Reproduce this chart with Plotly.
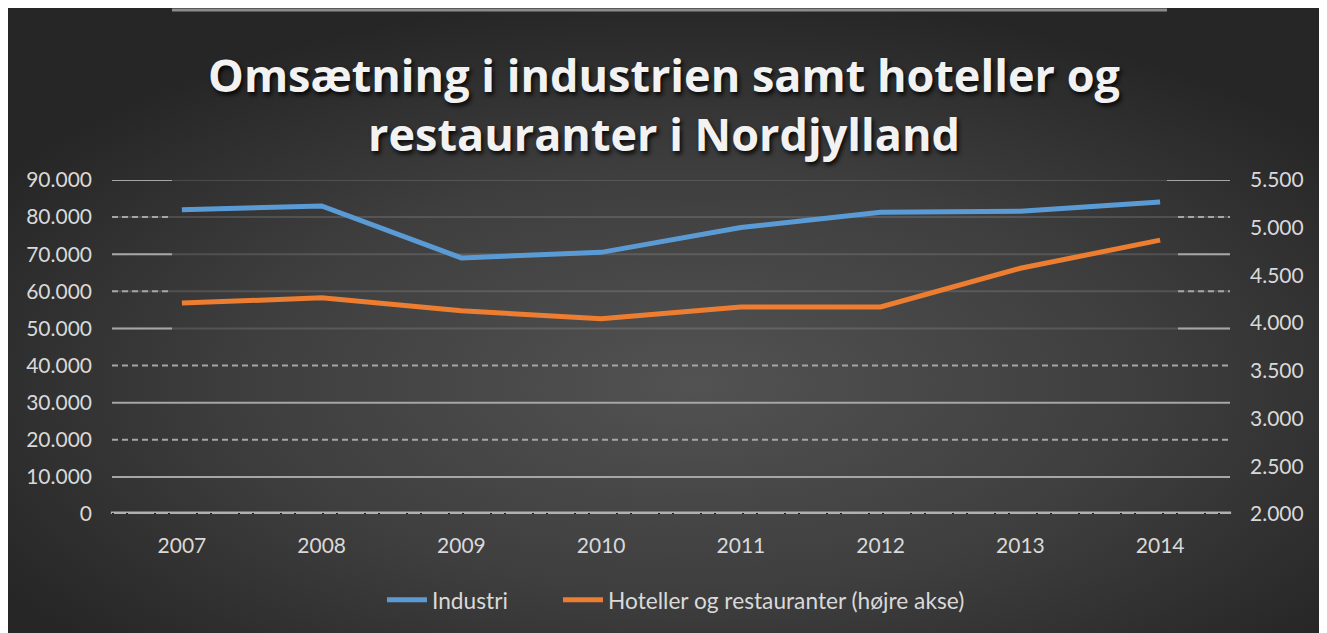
import base64
import plotly.graph_objects as go

# ---- data ----
years = ["2007", "2008", "2009", "2010", "2011", "2012", "2013", "2014"]
industri = [82000, 83000, 69000, 70500, 77200, 81300, 81600, 84100]
hoteller = [4210, 4265, 4130, 4045, 4170, 4170, 4575, 4870]

left_ticks = [0, 10000, 20000, 30000, 40000, 50000, 60000, 70000, 80000, 90000]
right_ticks = [2000, 2500, 3000, 3500, 4000, 4500, 5000, 5500]

title_text = "Omsætning i industrien samt hoteller og<br>restauranter i Nordjylland"
name_ind = "Industri"
name_hot = "Hoteller og restauranter (højre akse)"

# figure is placed at (8, 8) in the page by the default body margin
W, H = 1319, 625
ML, MR, MT, MB = 104, 97, 172, 119
PW, PH = W - ML - MR, H - MT - MB


def px_x(x):
    return (x - ML) / PW


def px_y(y):
    return (H - MB - y) / PH


# radial gradient background
svg = (
    "<svg xmlns='http://www.w3.org/2000/svg' width='1319' height='625' viewBox='0 0 1319 625' preserveAspectRatio='none'>"
    "<defs><radialGradient id='g' cx='0.52' cy='0.6' r='0.62'>"
    "<stop offset='0' stop-color='#525252'/><stop offset='0.55' stop-color='#3e3e3e'/>"
    "<stop offset='1' stop-color='#262626'/></radialGradient></defs>"
    "<rect width='1319' height='625' fill='url(#g)'/></svg>"
)
bg_src = "data:image/svg+xml;base64," + base64.b64encode(svg.encode()).decode()

fig = go.Figure()
fig.add_trace(go.Scatter(x=years, y=industri, name=name_ind, mode="lines",
                         line=dict(color="#5b9bd5", width=5), yaxis="y", legend="legend"))
fig.add_trace(go.Scatter(x=years, y=hoteller, name=name_hot, mode="lines",
                         line=dict(color="#ed7d31", width=5), yaxis="y2", legend="legend2"))

shapes = []
bright = "#a6a6a6"
for v in left_ticks[1:]:
    dash = "solid" if (v // 10000) % 2 == 1 else "6px,4px"
    if v <= 40000:
        shapes.append(dict(type="line", xref="paper", yref="y", x0=0, x1=1, y0=v, y1=v,
                           line=dict(color=bright, width=2, dash=dash), layer="below"))
    else:
        shapes.append(dict(type="line", xref="paper", yref="y", x0=0, x1=1, y0=v, y1=v,
                           line=dict(color="rgba(255,255,255,0.13)", width=2), layer="below"))
        x1l = px_x(164)
        x0r = px_x(1159 if v == 90000 else 1170)
        shapes.append(dict(type="line", xref="paper", yref="y", x0=0, x1=x1l, y0=v, y1=v,
                           line=dict(color=bright, width=2, dash=dash), layer="below"))
        shapes.append(dict(type="line", xref="paper", yref="y", x0=x0r, x1=1, y0=v, y1=v,
                           line=dict(color=bright, width=2, dash=dash), layer="below"))
# zero line
shapes.append(dict(type="line", xref="paper", yref="y", x0=-0.001, x1=1.001, y0=0, y1=0,
                   line=dict(color="#b0b0b0", width=5), layer="below"))
shapes.append(dict(type="line", xref="paper", yref="y", x0=0, x1=1, y0=0, y1=0,
                   line=dict(color="#1a1a1a", width=2, dash="2px,12px,2px,26px"), layer="below"))
# top grey strip line
shapes.append(dict(type="line", xref="paper", yref="paper", x0=px_x(164), x1=px_x(1159),
                   y0=px_y(2), y1=px_y(2), line=dict(color="#8c8c8c", width=3)))

tickfont = dict(family="Lato", size=21, color="#d9d9d9")
legfont = dict(family="Lato", size=22.7, color="#d9d9d9")

fig.update_layout(
    width=W, height=H,
    margin=dict(l=ML, r=MR, t=MT, b=MB),
    paper_bgcolor="#2a2a2a",
    plot_bgcolor="rgba(0,0,0,0)",
    separators=",.",
    images=[dict(source=bg_src, xref="paper", yref="paper", x=px_x(0), y=px_y(0),
                 sizex=W / PW, sizey=H / PH, xanchor="left", yanchor="top",
                 sizing="stretch", layer="below")],
    shapes=shapes,
    title=dict(text=title_text, x=656 / W, xanchor="center", xref="container",
               y=1 - 84 / H, yanchor="middle", yref="container",
               font=dict(family="Open Sans", size=45, color="#f2f2f2", weight="bold",
                         shadow="2px 3px 4px rgba(0,0,0,0.85)")),
    xaxis=dict(type="category", range=[-0.5, 7.5], showgrid=False, zeroline=False,
               showline=False, ticks="", tickfont=tickfont, ticklabelstandoff=17),
    yaxis=dict(range=[0, 90000], tickvals=left_ticks, tickformat=",d", showgrid=False,
               zeroline=False, showline=False, ticks="", tickfont=tickfont,
               ticklabelstandoff=19),
    yaxis2=dict(range=[2000, 5500], tickvals=right_ticks, tickformat=",d", overlaying="y",
                side="right", showgrid=False, zeroline=False, showline=False, ticks="",
                tickfont=tickfont, ticklabelstandoff=19),
    legend=dict(orientation="h", x=px_x(374), xanchor="left", y=px_y(592), yanchor="middle",
                font=legfont, bgcolor="rgba(0,0,0,0)", itemwidth=40),
    legend2=dict(orientation="h", x=px_x(550), xanchor="left", y=px_y(592), yanchor="middle",
                 font=legfont, bgcolor="rgba(0,0,0,0)", itemwidth=40),
    showlegend=True,
)

fig.write_html("out.html")
